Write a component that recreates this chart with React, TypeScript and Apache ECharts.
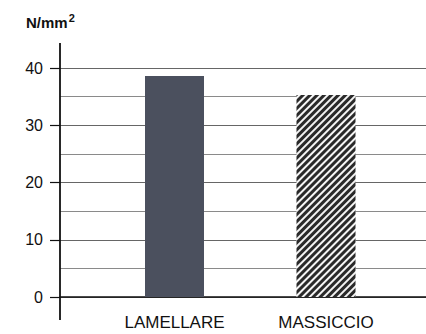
import React, { useEffect, useRef } from "react";
import * as echarts from "echarts";

const categories = ["LAMELLARE", "MASSICCIO"];
const strengthValues = [38.6, 35.3];
const yMin = 0;
const yMax = 40;
const yInterval = 10;
const unitLabel = "N/mm";
const unitExp = "2";

const FONT = "'Liberation Sans', Arial, sans-serif";

export default function App() {
  const ref = useRef<HTMLDivElement>(null);
  useEffect(() => {
    if (!ref.current) return;
    const chart = echarts.init(ref.current, undefined, { renderer: "svg" });
    const plotLeft = 60;
    const plotTop = 68;
    const plotBottom = 37;
    chart.setOption({
      animation: false,
      backgroundColor: "#ffffff",
      title: {
        left: 21,
        top: 7,
        text: `{a|${unitLabel}}{b|${unitExp}}`,
        textStyle: {
          rich: {
            a: { fontFamily: FONT, fontSize: 15, fontWeight: "bold", color: "#111", letterSpacing: -0.5 },
            b: { fontFamily: FONT, fontSize: 11, fontWeight: "bold", color: "#111", padding: [0, 0, 9, 1] },
          },
        },
      },
      grid: [
        { left: plotLeft, right: 0, top: plotTop, bottom: plotBottom },
        { left: 98.75, width: 303, top: plotTop, bottom: plotBottom },
      ],
      xAxis: [
        {
          gridIndex: 0,
          type: "value",
          min: 0,
          max: 1,
          axisLine: { show: true, onZero: false, lineStyle: { color: "#111", width: 1.5 } },
          axisTick: { show: false },
          axisLabel: { show: false },
          splitLine: { show: false },
        },
        {
          gridIndex: 1,
          type: "category",
          data: categories,
          axisLine: { show: false },
          axisTick: { show: false },
          axisLabel: { fontFamily: FONT, fontSize: 17, color: "#111", margin: 17 },
        },
      ],
      yAxis: [
        {
          gridIndex: 0,
          type: "value",
          min: yMin,
          max: yMax,
          interval: yInterval,
          axisLine: { show: false },
          axisTick: { show: true, length: 10, lineStyle: { color: "#111", width: 1.2 } },
          axisLabel: { fontFamily: FONT, fontSize: 16, color: "#111", margin: 17 },
          splitLine: { show: true, lineStyle: { color: "#666", width: 1 } },
          minorTick: { show: false, splitNumber: 2 },
          minorSplitLine: { show: true, lineStyle: { color: "#8a8a8a", width: 1 } },
        },
        {
          gridIndex: 1,
          type: "value",
          min: yMin,
          max: yMax,
          show: false,
        },
      ],
      series: [
        {
          type: "bar",
          xAxisIndex: 1,
          yAxisIndex: 1,
          barWidth: 59,
          data: [
            { value: strengthValues[0], itemStyle: { color: "#4b505e" } },
            {
              value: strengthValues[1],
              itemStyle: {
                color: "#f4f4f4",
                decal: {
                  symbol: "rect",
                  color: "#2a2a2a",
                  dashArrayX: [1, 0],
                  dashArrayY: [2.2, 2],
                  rotation: -Math.PI / 4,
                  symbolSize: 1,
                },
              },
            },
          ],
        },
      ],
      graphic: [
        {
          type: "line",
          shape: { x1: plotLeft, y1: 43, x2: plotLeft, y2: 320 },
          style: { stroke: "#111", lineWidth: 1.8 },
          z: 10,
        },
      ],
    });
    return () => chart.dispose();
  }, []);
  return (
    <div
      ref={ref}
      style={{ position: "fixed", left: 0, top: 0, width: 426, height: 334 }}
    />
  );
}
